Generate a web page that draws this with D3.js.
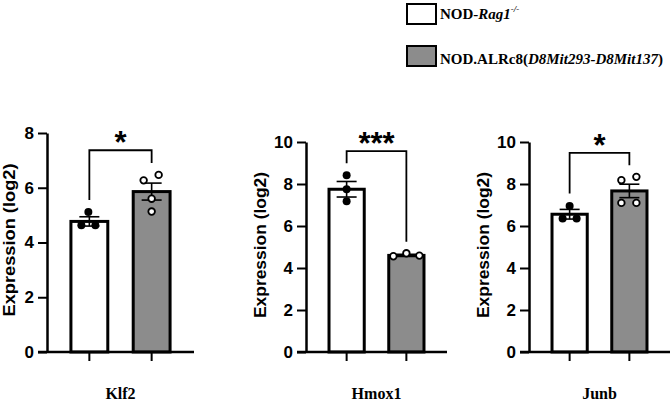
<!DOCTYPE html>
<html>
<head>
<meta charset="utf-8">
<script src="https://cdn.jsdelivr.net/npm/d3@7"></script>
<style>
  body { margin: 0; background: #fff; }
  svg { display: block; }
</style>
</head>
<body>
<div id="chart"></div>
<script>
// values
var genes = ["Klf2", "Hmox1", "Junb"];
var groups = ["rag1", "alrc8"];
var rag1Mean = [4.77, 7.75, 6.56];
var rag1Sem = [0.17, 0.37, 0.23];
var alrc8Mean = [5.86, 4.60, 7.67];
var alrc8Sem = [0.31, 0.05, 0.32];
var rag1Points = [[5.11, 4.63, 4.63], [8.42, 7.75, 7.18], [6.95, 6.36, 6.36]];
var alrc8Points = [[6.27, 6.47, 5.60, 5.13], [4.56, 4.70, 4.59], [8.18, 8.34, 7.10, 7.10]];
var yMax = [8, 10, 10];
var yTicks = [[0, 2, 4, 6, 8], [0, 2, 4, 6, 8, 10], [0, 2, 4, 6, 8, 10]];
var stars = ["*", "***", "*"];
var bracketTop = [7.37, 9.57, 9.48];
var bracketLeft = [5.55, 8.99, 7.55];
var bracketRight = [6.90, 5.25, 8.89];

// layout only
var panels = [
    {x0: 47, x1: 194, top: 133, bottom: 352, labelX: 15, labelY: 240, labelLen: 153},
    {x0: 306, x1: 447, top: 142, bottom: 352, labelX: 266, labelY: 245, labelLen: 146},
    {x0: 529, x1: 670, top: 142, bottom: 352, labelX: 489, labelY: 245, labelLen: 146}
];
var rag1Jitter = [[-1, -8, 6], [0, 0, 0], [0, -7, 7]];
var alrc8Jitter = [[-8, 7, 0, 0], [-13, 0, 13], [-8, 7, -8, 7]];
var fills = {rag1: "#ffffff", alrc8: "#8c8c8c"};
var sans = "'Liberation Sans', Arial, sans-serif";
var serif = "'Liberation Serif', 'Times New Roman', serif";

var svg = d3.select("#chart").append("svg")
    .attr("width", 671)
    .attr("height", 405);

genes.forEach(function (gene, i) {
    var p = panels[i];
    var g = svg.append("g");

    var x = d3.scaleBand()
        .domain(groups)
        .range([p.x0, p.x1])
        .paddingInner(0.36)
        .paddingOuter(0.36);
    var y = d3.scaleLinear()
        .domain([0, yMax[i]])
        .range([p.bottom, p.top]);
    var bw = x.bandwidth();

    var series = [
        {grp: "rag1", mean: rag1Mean[i], sem: rag1Sem[i], pts: rag1Points[i], jit: rag1Jitter[i]},
        {grp: "alrc8", mean: alrc8Mean[i], sem: alrc8Sem[i], pts: alrc8Points[i], jit: alrc8Jitter[i]}
    ];

    // bars
    g.selectAll(".bar")
        .data(series)
        .enter().append("rect")
        .attr("x", function (d) { return x(d.grp) + 1.5; })
        .attr("y", function (d) { return y(d.mean); })
        .attr("width", bw - 3)
        .attr("height", function (d) { return y(0) - y(d.mean); })
        .attr("fill", function (d) { return fills[d.grp]; })
        .attr("stroke", "#000")
        .attr("stroke-width", 3);

    // error bars
    series.forEach(function (d) {
        var cx = x(d.grp) + bw / 2;
        var eb = g.append("g").attr("stroke", "#000").attr("stroke-width", 1.6);
        eb.append("line")
            .attr("x1", cx).attr("x2", cx)
            .attr("y1", y(d.mean - d.sem)).attr("y2", y(d.mean + d.sem));
        [d.mean - d.sem, d.mean + d.sem].forEach(function (v) {
            eb.append("line")
                .attr("x1", cx - 10).attr("x2", cx + 10)
                .attr("y1", y(v)).attr("y2", y(v));
        });
    });

    // individual points
    series.forEach(function (d) {
        var cx = x(d.grp) + bw / 2;
        g.selectAll(".pt-" + d.grp)
            .data(d.pts)
            .enter().append("circle")
            .attr("cx", function (v, k) { return cx + d.jit[k]; })
            .attr("cy", function (v) { return y(v); })
            .attr("r", d.grp === "rag1" ? 4 : 3.3)
            .attr("fill", d.grp === "rag1" ? "#000" : "#fff")
            .attr("stroke", "#000")
            .attr("stroke-width", d.grp === "rag1" ? 0 : 1.8);
    });

    // y axis
    var yAxis = g.append("g")
        .attr("transform", "translate(" + p.x0 + ",0)")
        .call(d3.axisLeft(y).tickValues(yTicks[i]).tickSize(9).tickSizeOuter(0).tickPadding(4));
    yAxis.select(".domain").attr("stroke-width", 2.5).attr("stroke", "#000");
    yAxis.selectAll(".tick line").attr("stroke-width", 2).attr("stroke", "#000");
    yAxis.selectAll(".tick text")
        .attr("font-family", sans)
        .attr("font-weight", "bold")
        .attr("font-size", 17)
        .attr("fill", "#000");

    // x axis
    var xAxis = g.append("g")
        .attr("transform", "translate(0," + y(0) + ")")
        .call(d3.axisBottom(x).tickSize(9).tickSizeOuter(0).tickFormat(""));
    xAxis.select(".domain")
        .attr("d", "M" + (p.x0 - 9) + ",0H" + p.x1)
        .attr("stroke-width", 2.5).attr("stroke", "#000");
    xAxis.selectAll(".tick line").attr("stroke-width", 2).attr("stroke", "#000");

    // y label
    g.append("text")
        .attr("transform", "translate(" + p.labelX + "," + p.labelY + ") rotate(-90)")
        .attr("text-anchor", "middle")
        .attr("font-family", sans)
        .attr("font-weight", "bold")
        .attr("font-size", 16)
        .attr("textLength", p.labelLen)
        .attr("lengthAdjust", "spacingAndGlyphs")
        .text("Expression (log2)");

    // gene label
    var mid = x("rag1") + bw / 2 + x.step() / 2;
    g.append("text")
        .attr("x", mid)
        .attr("y", 399)
        .attr("text-anchor", "middle")
        .attr("font-family", serif)
        .attr("font-weight", "bold")
        .attr("font-size", 16)
        .text(gene);

    // significance bracket
    var lx = x("rag1") + bw / 2, rx = x("alrc8") + bw / 2;
    g.append("path")
        .attr("d", "M" + lx + "," + y(bracketLeft[i]) + "V" + y(bracketTop[i]) +
            "H" + rx + "V" + y(bracketRight[i]))
        .attr("fill", "none")
        .attr("stroke", "#000")
        .attr("stroke-width", 1.8);
    g.append("text")
        .attr("x", (lx + rx) / 2)
        .attr("y", y(bracketTop[i]) + 3)
        .attr("text-anchor", "middle")
        .attr("font-family", sans)
        .attr("font-weight", "bold")
        .attr("font-size", 31)
        .text(stars[i]);
});

// legend
var legend = svg.append("g");
legend.append("rect").attr("x", 407).attr("y", 4).attr("width", 29).attr("height", 20)
    .attr("fill", fills.rag1).attr("stroke", "#000").attr("stroke-width", 2);
legend.append("rect").attr("x", 407).attr("y", 46).attr("width", 29).attr("height", 20)
    .attr("fill", fills.alrc8).attr("stroke", "#000").attr("stroke-width", 2);

var t1 = legend.append("text")
    .attr("x", 440).attr("y", 18.5)
    .attr("font-family", serif).attr("font-weight", "bold").attr("font-size", 15);
t1.append("tspan").text("NOD-");
t1.append("tspan").attr("font-style", "italic").text("Rag1");
t1.append("tspan").attr("font-style", "italic").attr("font-size", 9).attr("dy", -7).text("-/-");

var t2 = legend.append("text")
    .attr("x", 440).attr("y", 63.5)
    .attr("font-family", serif).attr("font-weight", "bold").attr("font-size", 15);
t2.append("tspan").text("NOD.ALRc8(");
t2.append("tspan").attr("font-style", "italic").text("D8Mit293-D8Mit137");
t2.append("tspan").text(")");
</script>
</body>
</html>
